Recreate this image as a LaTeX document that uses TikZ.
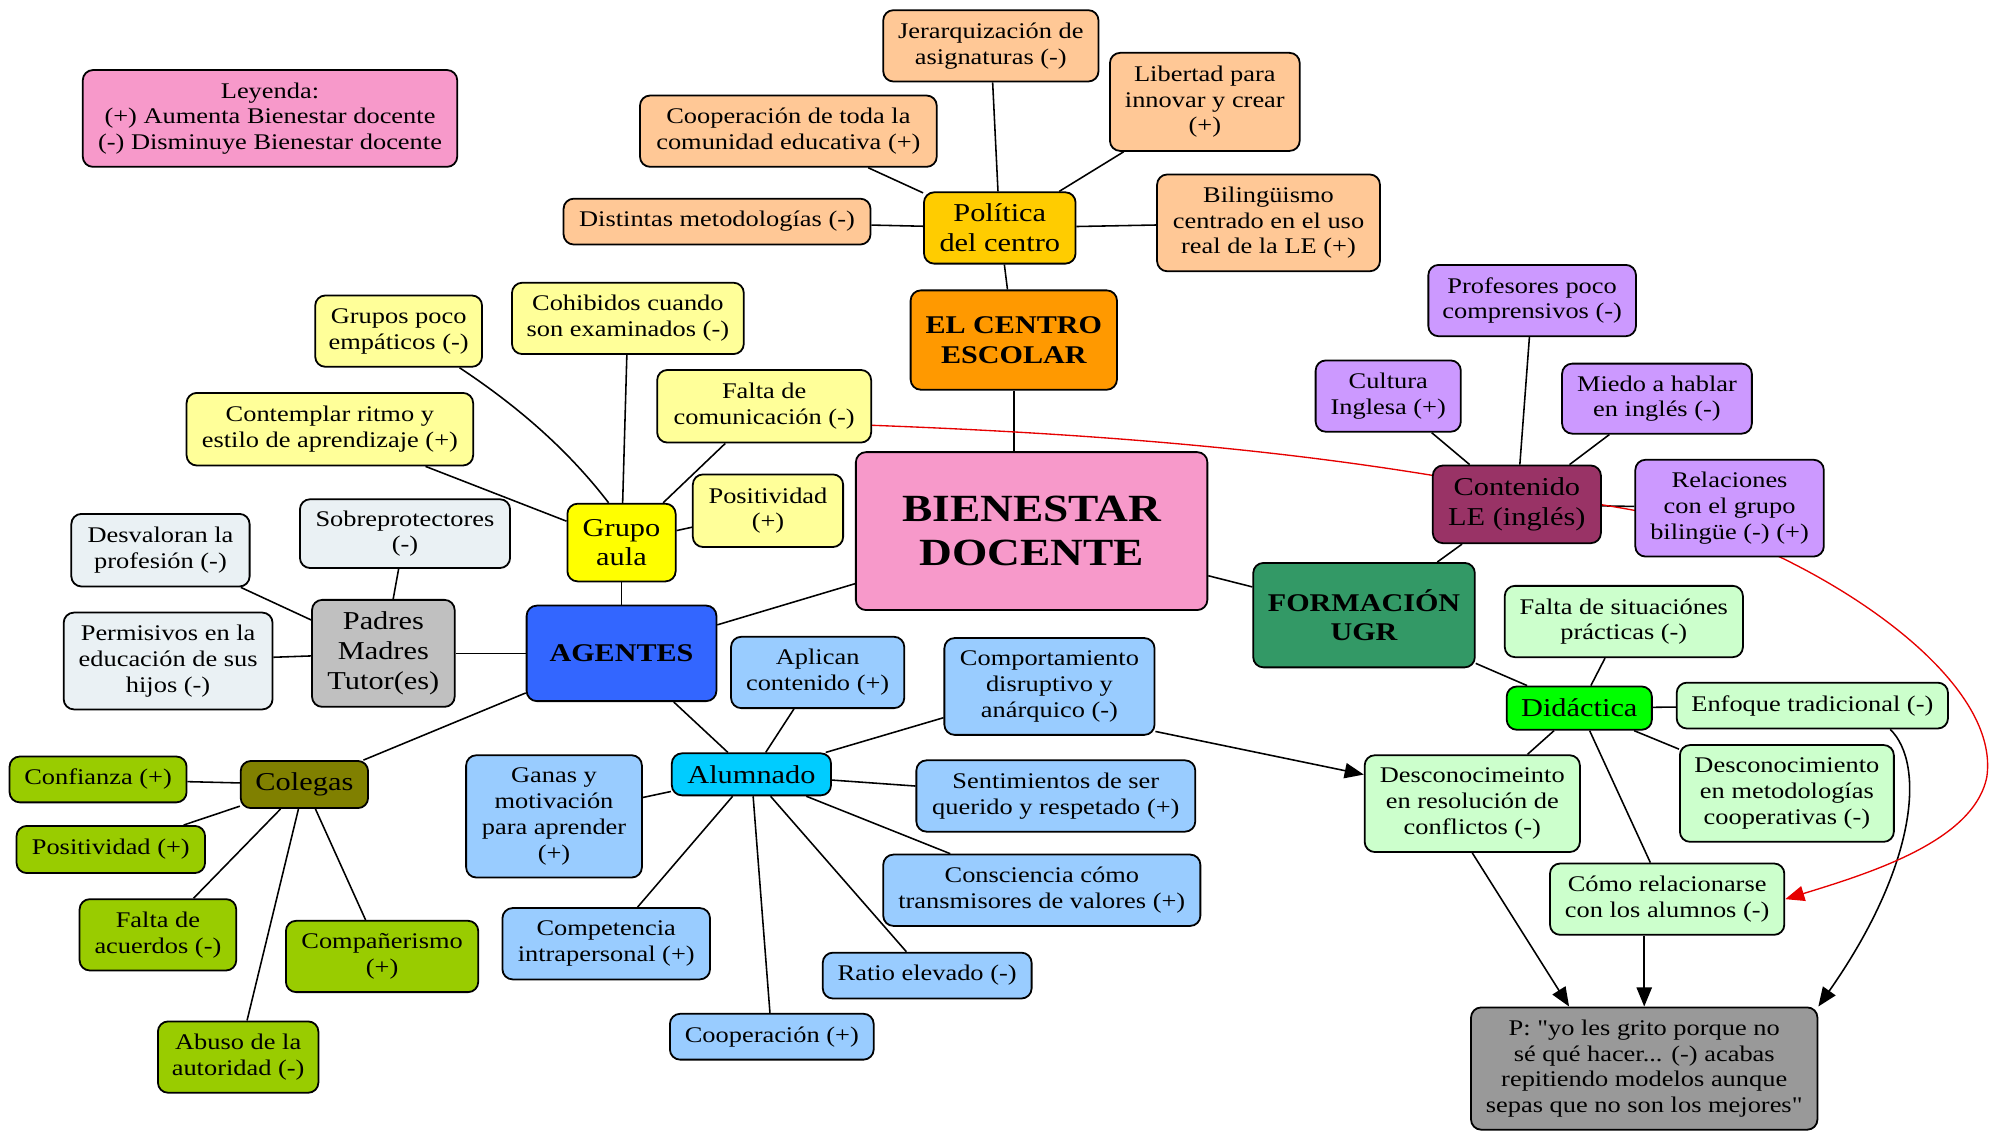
\documentclass[tikz,border=0pt]{standalone}
\usepackage{fontspec}
\setmainfont{Liberation Serif}[FakeStretch=1.18, Ligatures=TeXOff]
\usetikzlibrary{arrows.meta,backgrounds}
\definecolor{cpink}{HTML}{F799CA}
\definecolor{cpeach}{HTML}{FFC896}
\definecolor{cgold}{HTML}{FFCC00}
\definecolor{corange}{HTML}{FF9900}
\definecolor{cpaley}{HTML}{FFFF99}
\definecolor{cyel}{HTML}{FFFF00}
\definecolor{cmist}{HTML}{EAF1F4}
\definecolor{cgray}{HTML}{C0C0C0}
\definecolor{cblue}{HTML}{3366FF}
\definecolor{ccyan}{HTML}{00CCFF}
\definecolor{csky}{HTML}{99CCFF}
\definecolor{colive}{HTML}{808000}
\definecolor{clime}{HTML}{99CC00}
\definecolor{cplum}{HTML}{993366}
\definecolor{clav}{HTML}{CC99FF}
\definecolor{cteal}{HTML}{339966}
\definecolor{cgreen}{HTML}{00FF00}
\definecolor{cmint}{HTML}{CCFFCC}
\definecolor{cdark}{HTML}{999999}
\definecolor{cred}{HTML}{E60000}
\tikzset{
  box/.style={draw=black, line width=0.8pt, rounded corners=0.16cm, align=center,
    inner sep=1pt, font=\fontsize{10}{11.5}\selectfont},
  wh/.style 2 args={minimum width=#1*0.02cm, minimum height=#2*0.02cm},
  big/.style={font=\fontsize{11.5}{13.3}\selectfont},
  hub/.style={font=\bfseries\fontsize{11.4}{13.1}\selectfont},
  edge/.style={line width=0.7pt},
  arr/.style={edge, -{Triangle[length=0.3cm,width=0.24cm]}},
}
\begin{document}
\begin{tikzpicture}[x=0.02cm, y=-0.02cm]
\useasboundingbox (0,0) rectangle (1568,888);

% legend
\node[box, fill=cpink, wh={294}{76}] (legend) at (212,93)
  {Leyenda:\\(+) Aumenta Bienestar docente\\(-) Disminuye Bienestar docente};

% school policy branch
\node[box, fill=cpeach, wh={169}{56}] (jer) at (778,36) {Jerarquización de\\asignaturas (-)};
\node[box, fill=cpeach, wh={149}{77}] (lib) at (946,80) {Libertad para\\innovar y crear\\(+)};
\node[box, fill=cpeach, wh={233}{56}] (coop) at (619,103) {Cooperación de toda la\\comunidad educativa (+)};
\node[box, fill=cpeach, wh={241}{36}] (dist) at (563,174) {Distintas metodologías (-)};
\node[box, big, fill=cgold, wh={119}{56}] (pol) at (785,179) {Política\\del centro};
\node[box, fill=cpeach, wh={175}{76}] (bil) at (996,175) {Bilingüismo\\centrado en el uso\\real de la LE (+)};
\node[box, hub, fill=corange, wh={162}{78}] (centro) at (796,267) {EL CENTRO\\ESCOLAR};

% class group branch
\node[box, fill=cpaley, wh={131}{56}] (grupos) at (313,260) {Grupos poco\\empáticos (-)};
\node[box, fill=cpaley, wh={182}{56}] (cohib) at (493,250) {Cohibidos cuando\\son examinados (-)};
\node[box, fill=cpaley, wh={168}{57}] (faltacom) at (600,319) {Falta de\\comunicación (-)};
\node[box, fill=cpaley, wh={225}{57}] (contemplar) at (259,337) {Contemplar ritmo y\\estilo de aprendizaje (+)};
\node[box, fill=cpaley, wh={118}{57}] (posy) at (603,401) {Positividad\\(+)};
\node[box, big, fill=cyel, wh={85}{61}] (grupo) at (488,426) {Grupo\\aula};

% centre
\node[box, fill=cpink, wh={276}{124}, font=\bfseries\fontsize{17.2}{19.8}\selectfont] (bien) at (810,417) {BIENESTAR\\DOCENTE};

% parents branch
\node[box, fill=cmist, wh={165}{54}] (sobre) at (318,419) {Sobreprotectores\\(-)};
\node[box, fill=cmist, wh={140}{57}] (desval) at (126,432) {Desvaloran la\\profesión (-)};
\node[box, big, fill=cgray, wh={112}{84}] (padres) at (301,513) {Padres\\Madres\\Tutor(es)};
\node[box, fill=cmist, wh={164}{76}] (permis) at (132,519) {Permisivos en la\\educación de sus\\hijos (-)};
\node[box, hub, fill=cblue, wh={149}{75}] (agentes) at (488,513) {AGENTES};

% English content branch
\node[box, big, fill=cplum, wh={132}{61}] (conten) at (1191,396) {Contenido\\LE (inglés)};
\node[box, fill=clav, wh={163}{56}] (prof) at (1203,236) {Profesores poco\\comprensivos (-)};
\node[box, fill=clav, wh={114}{56}] (cultura) at (1090,311) {Cultura\\Inglesa (+)};
\node[box, fill=clav, wh={149}{55}] (miedo) at (1301,313) {Miedo a hablar\\en inglés (-)};
\node[box, fill=clav, wh={148}{76}] (relac) at (1358,399) {Relaciones\\con el grupo\\bilingüe (-) (+)};

% university training branch
\node[box, hub, fill=cteal, wh={174}{82}] (formacion) at (1071,483) {FORMACIÓN\\UGR};
\node[box, fill=cmint, wh={187}{56}] (faltasit) at (1275,488) {Falta de situaciónes\\prácticas (-)};
\node[box, big, fill=cgreen, wh={114}{34}] (didac) at (1240,556) {Didáctica};
\node[box, fill=cmint, wh={213}{36}] (enfoque) at (1423,554) {Enfoque tradicional (-)};
\node[box, fill=cmint, wh={168}{76}] (desmet) at (1403,623) {Desconocimiento\\en metodologías\\cooperativas (-)};
\node[box, fill=cmint, wh={169}{76}] (desres) at (1156,631) {Desconocimeinto\\en resolución de\\conflictos (-)};
\node[box, fill=cmint, wh={184}{56}] (como) at (1309,706) {Cómo relacionarse\\con los alumnos (-)};
\node[box, fill=cdark, wh={272}{96}] (pq) at (1291,839)
  {P: "yo les grito porque no\\sé qué hacer... (-) acabas\\repitiendo modelos aunque\\sepas que no son los mejores"};

% pupils branch
\node[box, fill=csky, wh={136}{56}] (aplican) at (642,528) {Aplican\\contenido (+)};
\node[box, fill=csky, wh={165}{76}] (comport) at (824,539) {Comportamiento\\disruptivo y\\anárquico (-)};
\node[box, big, fill=ccyan, wh={125}{33}] (alumnado) at (590,608) {Alumnado};
\node[box, fill=csky, wh={138}{96}] (ganas) at (435,641) {Ganas y\\motivación\\para aprender\\(+)};
\node[box, fill=csky, wh={219}{56}] (sentim) at (829,625) {Sentimientos de ser\\querido y respetado (+)};
\node[box, fill=csky, wh={249}{56}] (consc) at (818,699) {Consciencia cómo\\transmisores de valores (+)};
\node[box, fill=csky, wh={163}{56}] (compet) at (476,741) {Competencia\\intrapersonal (+)};
\node[box, fill=csky, wh={164}{36}] (ratio) at (728,766) {Ratio elevado (-)};
\node[box, fill=csky, wh={160}{36}] (cooper) at (606,814) {Cooperación (+)};

% colleagues branch
\node[box, big, fill=colive, wh={100}{37}] (colegas) at (239,616) {Colegas};
\node[box, fill=clime, wh={139}{36}] (confianza) at (77,612) {Confianza (+)};
\node[box, fill=clime, wh={148}{37}] (posg) at (87,667) {Positividad (+)};
\node[box, fill=clime, wh={123}{56}] (faltaac) at (124,734) {Falta de\\acuerdos (-)};
\node[box, fill=clime, wh={151}{56}] (compan) at (300,751) {Compañerismo\\(+)};
\node[box, fill=clime, wh={126}{56}] (abuso) at (187,830) {Abuso de la\\autoridad (-)};

\begin{scope}[on background layer]
  \fill[white] (0,0) rectangle (1568,888);
  % school policy
  \draw[edge] (pol) -- (jer);
  \draw[edge] (pol) -- (lib);
  \draw[edge] (pol) -- (coop);
  \draw[edge] (pol) -- (dist);
  \draw[edge] (pol) -- (bil);
  \draw[edge] (pol) -- (centro);
  \draw[edge] (centro.south) -- (centro.south |- bien.north);
  % main hubs
  \draw[edge] (bien) -- (agentes);
  \draw[edge] (bien) -- (formacion);
  \draw[edge] (agentes) -- (grupo);
  \draw[edge] (agentes) -- (padres);
  \draw[edge] (agentes) -- (colegas);
  \draw[edge] (agentes) -- (alumnado);
  % class group
  \draw[edge] (grupos.-31) .. controls (405,318) and (445,352) .. (grupo.108);
  \draw[edge] (grupo) -- (cohib);
  \draw[edge] (grupo) -- (faltacom);
  \draw[edge] (grupo) -- (contemplar);
  \draw[edge] (grupo) -- (posy);
  % parents
  \draw[edge] (padres) -- (sobre);
  \draw[edge] (padres) -- (desval);
  \draw[edge] (padres) -- (permis);
  % pupils
  \draw[edge] (alumnado) -- (aplican);
  \draw[edge] (alumnado) -- (comport);
  \draw[edge] (alumnado) -- (ganas);
  \draw[edge] (alumnado) -- (sentim);
  \draw[edge] (alumnado) -- (consc);
  \draw[edge] (alumnado) -- (compet);
  \draw[edge] (alumnado) -- (ratio);
  \draw[edge] (alumnado) -- (cooper);
  % colleagues
  \draw[edge] (colegas) -- (confianza);
  \draw[edge] (colegas) -- (posg);
  \draw[edge] (colegas) -- (faltaac);
  \draw[edge] (colegas) -- (compan);
  \draw[edge] (colegas) -- (abuso);
  % training
  \draw[edge] (formacion) -- (conten);
  \draw[edge] (formacion) -- (didac);
  \draw[edge] (conten) -- (prof);
  \draw[edge] (conten) -- (cultura);
  \draw[edge] (conten) -- (miedo);
  \draw[edge] (conten) -- (relac);
  \draw[edge] (didac) -- (faltasit);
  \draw[edge] (didac) -- (enfoque);
  \draw[edge] (didac) -- (desmet);
  \draw[edge] (didac) -- (desres);
  \draw[edge] (didac) -- (como);
  % consequences
  \draw[arr] (comport.-23) -- (desres.165);
  \draw[arr] (desres.south) -- ([xshift=-1.18cm]pq.north);
  \draw[arr] (como.south -| pq.north) -- (pq.north);
  \draw[arr] (enfoque.-17) .. controls (1512,600) and (1505,680) .. (pq.north east);
  % cross link
  \draw[cred, line width=0.6pt, -{Triangle[length=0.3cm,width=0.24cm]}]
    (faltacom.-10) .. controls (900,342) and (1050,358) .. (1191,385)
    .. controls (1260,398) and (1300,400) .. (1358,420)
    .. controls (1460,460) and (1570,540) .. (1560,610)
    .. controls (1550,660) and (1470,685) .. (como.east);
\end{scope}
\end{tikzpicture}
\end{document}
